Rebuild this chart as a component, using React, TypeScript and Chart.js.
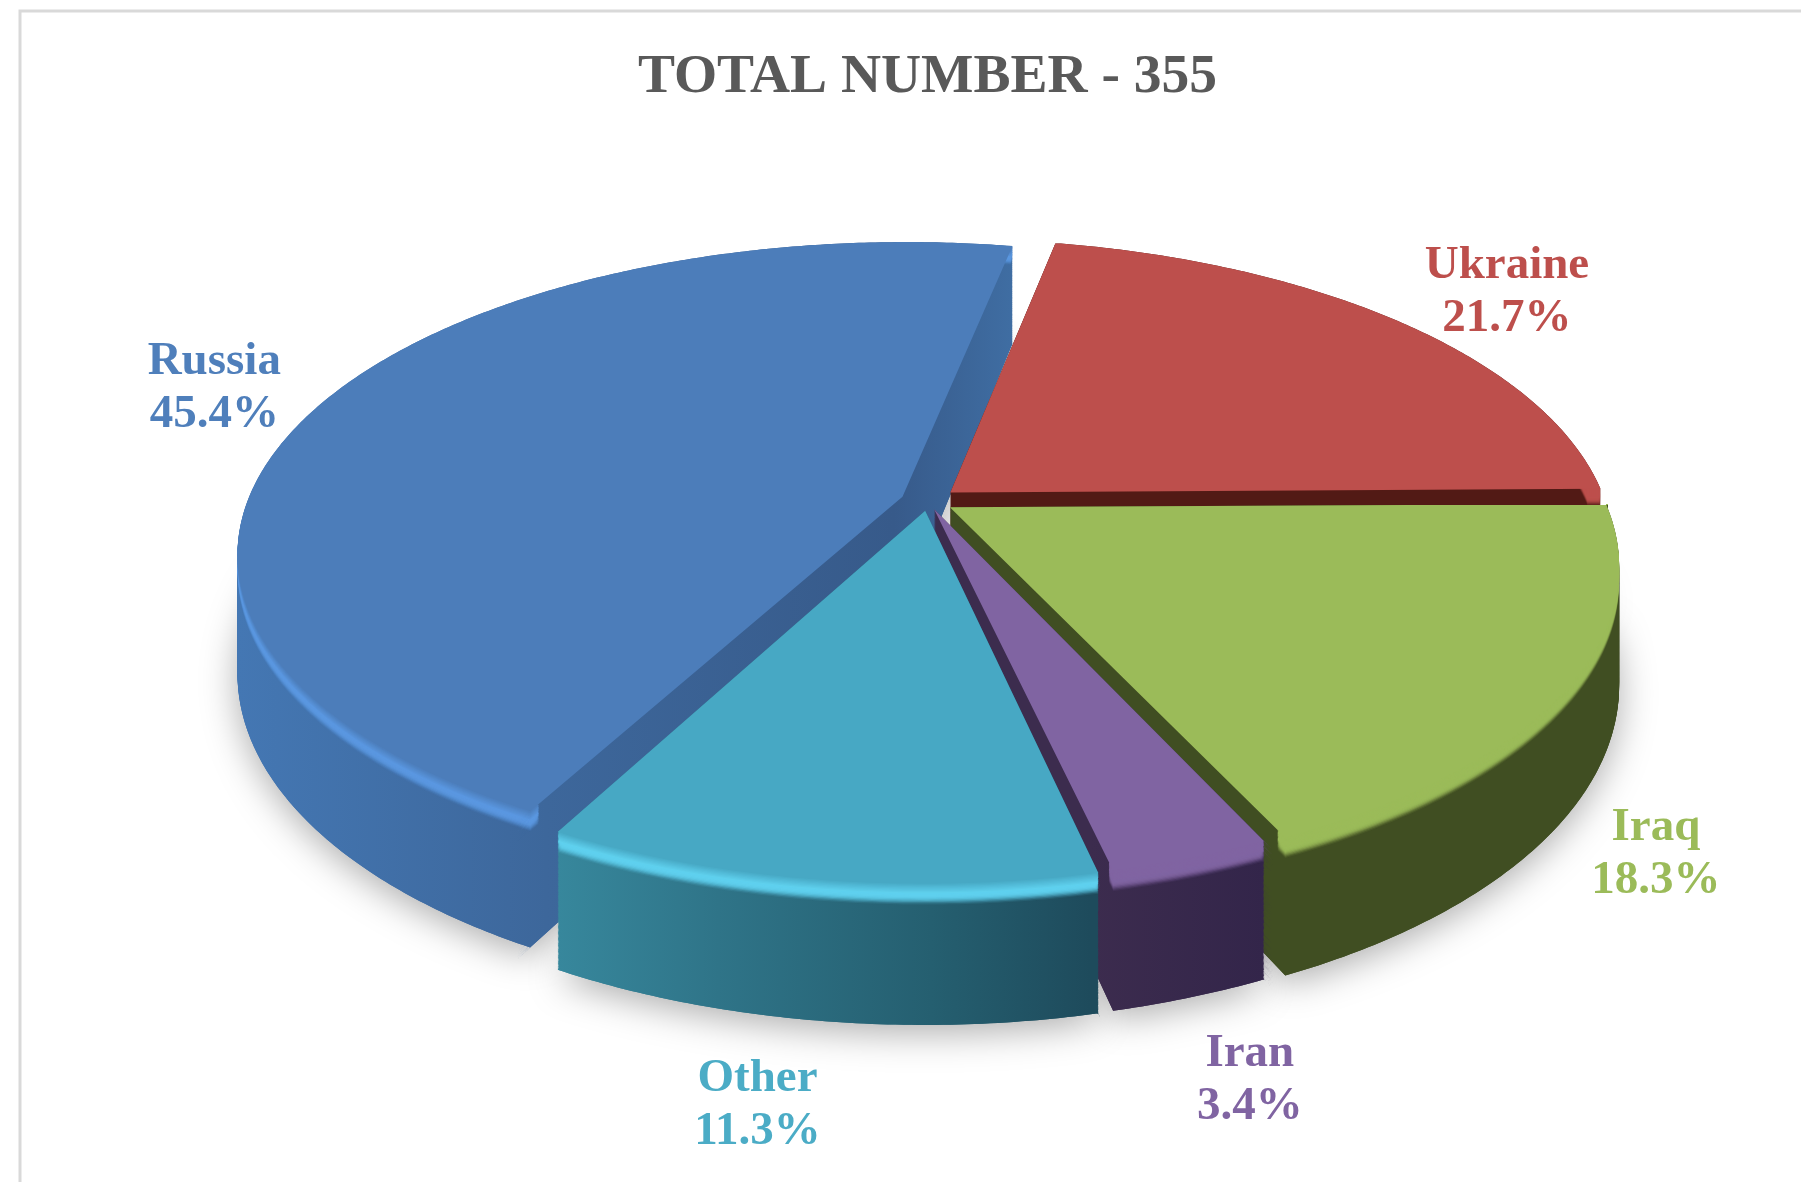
import React, { useEffect, useRef } from "react";
import { Chart, registerables } from "chart.js";

Chart.register(...registerables);

const titleText = "TOTAL NUMBER - 355";
const countries = ["Russia", "Ukraine", "Iraq", "Iran", "Other"];
const shares = [45.4, 21.7, 18.3, 3.4, 11.3];
const topColors = ["#4c7dba", "#bd4f4c", "#9bbb59", "#8064a2", "#47a8c4"];
const labelColors = ["#4f7fbb", "#bd4f4c", "#9bbb59", "#8064a2", "#4bacc6"];
const rimColors = ["#5a97e0", "#bd4f4c", "#9bbb59", "#8064a2", "#5fd0ee"];
const explodeOffsets = [80, 86, 76, 56, 62];
const wallStops: [number, string][][] = [
  [[0, "#4477b3"], [0.4, "#3d679b"], [0.85, "#375a8a"], [1, "#3f6da2"]],
  [[0, "#521a15"], [1, "#521a15"]],
  [[0, "#404e22"], [1, "#404e22"]],
  [[0, "#3c2c4e"], [1, "#33254a"]],
  [[0, "#37879c"], [0.3, "#2f7488"], [0.7, "#255f70"], [1, "#1e4b5c"]],
];
const wallSpans = [[238, 1010], [950, 1600], [950, 1620], [1090, 1265], [559, 1091]];
const labelNudges = [[-132, -17], [127, -36], [115, 175], [68, 234], [-64, 240]];

const VIEW = { cx: 928, cy: 501, rx: 655, ry: 302, p: 0.18, depth: 115, bevel: 18 };
const FONT = "'Liberation Serif', serif";

function hexRgb(h: string) {
  return [1, 3, 5].map((i) => parseInt(h.slice(i, i + 2), 16));
}

// Forwards the drawing calls of a Chart.js arc element through a tilted perspective view.
class TiltedContext {
  real: CanvasRenderingContext2D; ox: number; oy: number; R: number; z = 0;
  tx = 0; ty = 0; stack: number[][] = []; paint: any = null;
  fillStyle: any; strokeStyle: any; lineWidth: any; lineJoin: any;
  constructor(real: CanvasRenderingContext2D, ox: number, oy: number, R: number) {
    this.real = real; this.ox = ox; this.oy = oy; this.R = R;
  }
  pt(x: number, y: number) {
    const u = (x + this.tx - this.ox) / this.R;
    const v = (y + this.ty - this.oy) / this.R;
    const s = 1 / (1 - VIEW.p * v);
    return [VIEW.cx + VIEW.rx * u * s, VIEW.cy + VIEW.ry * v * s + this.z * s];
  }
  save() { this.stack.push([this.tx, this.ty]); }
  restore() { const t = this.stack.pop(); if (t) { this.tx = t[0]; this.ty = t[1]; } }
  translate(x: number, y: number) { this.tx += x; this.ty += y; }
  beginPath() { this.real.beginPath(); }
  closePath() { this.real.closePath(); }
  moveTo(x: number, y: number) { const p = this.pt(x, y); this.real.lineTo(p[0], p[1]); }
  lineTo(x: number, y: number) { const p = this.pt(x, y); this.real.lineTo(p[0], p[1]); }
  arc(x: number, y: number, r: number, a0: number, a1: number, ccw?: boolean) {
    const rr = Math.min(r, this.R);
    let d = a1 - a0;
    if (ccw && d > 0) d -= Math.PI * 2;
    if (!ccw && d < 0) d += Math.PI * 2;
    const n = Math.max(2, Math.ceil(Math.abs(d) / 0.01));
    for (let i = 0; i <= n; i++) {
      const a = a0 + (d * i) / n;
      this.lineTo(x + rr * Math.cos(a), y + rr * Math.sin(a));
    }
  }
  fill() { this.real.fillStyle = this.paint ?? this.fillStyle; this.real.fill(); }
  stroke() {}
  clip() {}
  setLineDash() {}
}

const frameAndPie = {
  id: "tiltedPie",
  beforeDraw(chart: any) {
    const c = chart.ctx;
    c.save();
    c.strokeStyle = "#d9d9d9";
    c.lineWidth = 3;
    c.beginPath();
    c.moveTo(20, chart.height);
    c.lineTo(20, 11);
    c.lineTo(chart.width, 11);
    c.stroke();
    c.restore();
  },
  beforeDatasetsDraw(chart: any) {
    const c: CanvasRenderingContext2D = chart.ctx;
    const arcs: any[] = chart.getDatasetMeta(0).data;
    const R = arcs[0].outerRadius;
    const proxy = new TiltedContext(c, arcs[0].x, arcs[0].y, R);
    const walls = arcs.map((_, i) => {
      const g = c.createLinearGradient(wallSpans[i][0], 0, wallSpans[i][1], 0);
      wallStops[i].forEach(([o, col]) => g.addColorStop(o, col));
      return g;
    });
    c.save();
    // ground shadow
    c.shadowColor = "rgba(0,0,0,0.32)";
    c.shadowBlur = 36;
    c.shadowOffsetY = 8;
    proxy.z = VIEW.depth;
    arcs.forEach((a, i) => { proxy.paint = walls[i]; a.draw(proxy); });
    c.shadowColor = "transparent";
    c.shadowBlur = 0;
    c.shadowOffsetY = 0;
    // extruded walls
    for (let z = VIEW.depth; z >= 0; z -= 1) {
      proxy.z = z;
      arcs.forEach((a, i) => { proxy.paint = walls[i]; a.draw(proxy); });
    }
    // bevelled rim: a thin outer ring of each slice, so the radial walls stay clean
    for (let z = VIEW.bevel; z >= 1; z -= 1) {
      proxy.z = z;
      const t = 1 - z / VIEW.bevel;
      arcs.forEach((a, i) => {
        const hl = hexRgb(rimColors[i]);
        const top = hexRgb(topColors[i]);
        let col: string;
        if (t < 0.55) col = `rgba(${hl[0]},${hl[1]},${hl[2]},${t / 0.55})`;
        else {
          const m = (t - 0.55) / 0.45;
          col = `rgb(${hl.map((h, k) => Math.round(h + (top[k] - h) * m)).join(",")})`;
        }
        const ir = a.innerRadius;
        // the arc element grows its inner radius by this amount when it is offset
        const grow = (explodeOffsets[i] / 4) * (1 - Math.sin(Math.min(Math.PI, a.circumference)));
        a.innerRadius = R * 0.98 - grow;
        proxy.paint = col;
        a.draw(proxy);
        a.innerRadius = ir;
      });
    }
    // top faces
    proxy.z = 0;
    arcs.forEach((a, i) => { proxy.paint = topColors[i]; a.draw(proxy); });
    c.restore();
    return false;
  },
  afterDraw(chart: any) {
    const c: CanvasRenderingContext2D = chart.ctx;
    const arcs: any[] = chart.getDatasetMeta(0).data;
    const R = arcs[0].outerRadius;
    const proxy = new TiltedContext(c, arcs[0].x, arcs[0].y, R);
    c.save();
    c.font = `bold 47px ${FONT}`;
    c.textAlign = "center";
    c.textBaseline = "middle";
    arcs.forEach((a, i) => {
      const mid = (a.startAngle + a.endAngle) / 2;
      const p = proxy.pt(a.x + R * Math.cos(mid), a.y + R * Math.sin(mid));
      const x = p[0] + labelNudges[i][0];
      const y = p[1] + labelNudges[i][1];
      c.fillStyle = labelColors[i];
      c.fillText(countries[i], x, y - 26);
      c.fillText(`${shares[i].toFixed(1)}%`, x, y + 27);
    });
    c.restore();
  },
};

export default function App() {
  const ref = useRef<HTMLCanvasElement>(null);
  useEffect(() => {
    document.body.style.margin = "0";
    document.body.style.overflow = "hidden";
    const chart = new Chart(ref.current as HTMLCanvasElement, {
      type: "pie",
      data: {
        labels: countries,
        datasets: [{
          data: shares,
          backgroundColor: topColors,
          borderWidth: 0,
          offset: explodeOffsets,
        }],
      },
      options: {
        animation: false,
        responsive: false,
        rotation: -152,
        layout: { padding: { left: 54 } },
        plugins: {
          legend: { display: false },
          tooltip: { enabled: false },
          title: {
            display: true,
            text: titleText,
            color: "#595959",
            font: { family: FONT, size: 55.5, weight: "bold" },
            padding: { top: 44, bottom: 20 },
          },
        },
      },
      plugins: [frameAndPie],
    } as any);
    return () => chart.destroy();
  }, []);
  return <canvas ref={ref} width={1801} height={1182} style={{ display: "block" }} />;
}
